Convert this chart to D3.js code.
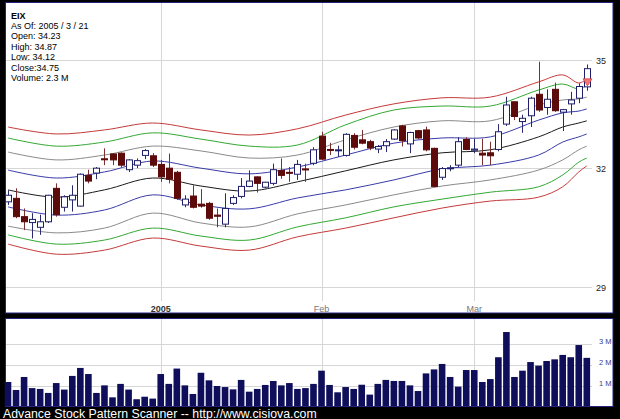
<!DOCTYPE html>
<html><head><meta charset="utf-8">
<script src="https://cdn.jsdelivr.net/npm/d3@7"></script>
<style>html,body{margin:0;padding:0;background:#000;overflow:hidden}svg{display:block}</style>
</head><body>
<svg id="c" width="620" height="419"></svg>
<script>
// ---------- data ----------
const dates = [
 "2004-12-06","2004-12-07","2004-12-08","2004-12-09","2004-12-10","2004-12-13","2004-12-14","2004-12-15","2004-12-16","2004-12-17",
 "2004-12-20","2004-12-21","2004-12-22","2004-12-23","2004-12-27","2004-12-28","2004-12-29","2004-12-30","2004-12-31",
 "2005-01-03","2005-01-04","2005-01-05","2005-01-06","2005-01-07","2005-01-10","2005-01-11","2005-01-12","2005-01-13","2005-01-14",
 "2005-01-18","2005-01-19","2005-01-20","2005-01-21","2005-01-24","2005-01-25","2005-01-26","2005-01-27","2005-01-28","2005-01-31",
 "2005-02-01","2005-02-02","2005-02-03","2005-02-04","2005-02-07","2005-02-08","2005-02-09","2005-02-10","2005-02-11","2005-02-14",
 "2005-02-15","2005-02-16","2005-02-17","2005-02-18","2005-02-22","2005-02-23","2005-02-24","2005-02-25","2005-02-28",
 "2005-03-01","2005-03-02","2005-03-03","2005-03-04","2005-03-07","2005-03-08","2005-03-09","2005-03-10","2005-03-11",
 "2005-03-14","2005-03-15","2005-03-16","2005-03-17","2005-03-18","2005-03-21"];
const openP = [31.12,31.21,30.74,30.59,30.47,30.61,31.47,30.98,31.17,31.01,31.81,31.87,32.25,32.38,32.40,31.96,32.08,32.34,32.33,
 32.10,32.00,31.89,31.04,31.27,31.06,31.08,30.78,30.55,31.08,31.26,31.52,31.77,31.50,31.60,31.94,31.89,31.84,31.98,32.13,
 32.86,32.50,32.47,32.34,32.88,32.76,32.71,32.51,32.60,32.78,33.14,32.65,33.01,33.03,32.53,31.76,32.00,32.08,32.77,
 32.48,32.40,32.41,32.50,33.19,33.81,33.26,33.42,34.02,33.65,34.16,33.52,33.75,33.91,34.23];
const highP = [31.42,31.47,30.95,30.83,30.79,31.30,31.60,31.29,31.55,31.86,31.96,32.03,32.53,32.40,32.42,32.24,32.26,32.51,32.40,
 32.22,32.39,31.93,31.29,31.55,31.45,31.12,30.95,31.34,31.29,31.74,31.94,31.78,31.64,32.12,32.26,32.03,32.22,32.12,32.56,
 32.98,32.68,32.60,32.94,32.94,33.03,32.76,32.62,32.78,33.05,33.17,32.98,33.03,33.12,32.55,32.03,32.08,32.83,32.83,
 32.79,32.79,32.71,33.19,33.95,33.81,33.45,33.95,34.95,34.16,34.35,33.61,34.09,34.33,34.87];
const lowP = [31.04,30.70,30.40,30.19,30.28,30.58,30.74,30.87,30.87,31.00,31.60,31.71,32.08,32.08,32.03,31.90,32.00,32.24,32.03,
 31.64,31.60,31.17,30.98,30.95,30.97,30.66,30.47,30.47,31.04,31.21,31.50,31.36,31.47,31.55,31.72,31.64,31.69,31.64,32.08,
 32.22,32.35,32.30,32.31,32.50,32.64,32.48,32.40,32.43,32.76,32.58,32.40,32.78,32.45,31.50,31.69,31.92,32.03,32.48,
 32.40,32.08,32.08,32.45,33.14,33.30,32.95,33.11,33.53,33.45,33.53,33.00,33.45,33.77,34.12];
const closeP = [31.29,30.74,30.61,30.67,30.61,31.29,30.79,31.25,31.29,31.84,31.66,32.00,32.23,32.22,32.08,32.22,32.20,32.47,32.08,
 31.77,31.71,31.21,31.19,30.98,31.01,30.70,30.75,30.95,31.23,31.52,31.66,31.60,31.63,31.96,31.81,31.87,32.10,31.96,32.49,
 32.24,32.48,32.49,32.91,32.56,32.67,32.54,32.58,32.71,33.03,32.74,32.96,32.81,32.49,31.52,31.99,32.01,32.71,32.50,
 32.51,32.35,32.33,32.98,33.72,33.40,33.35,33.91,33.58,33.88,33.56,33.59,33.86,34.24,34.75];
const volumeM = [1.19,0.81,1.43,0.90,0.86,0.67,1.14,0.83,1.48,1.86,1.57,0.67,1.03,0.46,1.10,0.83,0.37,0.49,0.40,
 1.57,1.10,1.83,1.03,0.62,1.63,1.27,1.00,0.95,0.84,1.29,0.73,0.86,1.05,1.24,1.03,1.14,0.86,0.90,1.10,
 1.73,1.05,0.70,0.95,0.86,1.06,0.59,1.10,1.29,1.24,1.24,1.03,0.76,1.60,1.79,2.05,1.43,0.97,1.76,
 1.76,1.19,1.33,2.37,3.57,1.43,1.73,2.14,1.97,2.19,2.27,2.48,2.37,2.95,2.34];

// band curves, sampled at these bar indices
const bandIdx   = [0, 6, 12, 18, 24, 30, 36, 42, 48, 54, 60, 66, 69, 71, 72];
const midLine   = [31.43,31.24,31.43,31.74,31.53,31.40,31.64,31.93,32.22,32.41,32.49,32.84,33.11,33.22,33.28];
const upBlue    = [31.95,31.74,31.90,32.19,32.00,31.85,32.03,32.35,32.67,32.81,32.84,33.30,33.50,33.55,33.61];
const upGray    = [32.43,32.22,32.35,32.59,32.46,32.27,32.35,32.76,33.11,33.28,33.28,33.72,33.86,33.89,33.94];
const upGreen   = [32.81,32.59,32.70,32.95,32.78,32.59,32.62,33.17,33.58,33.69,33.69,34.14,34.31,34.17,34.28];
const upRed     = [33.11,32.92,33.03,33.22,33.03,32.89,33.06,33.44,33.75,33.92,33.94,34.37,34.57,34.34,34.45];
const loBlue    = [30.99,30.78,30.91,31.30,31.04,30.94,31.22,31.43,31.69,31.98,32.08,32.35,32.70,32.84,32.92];
const loGray    = [30.50,30.33,30.45,30.83,30.58,30.48,30.81,31.04,31.30,31.53,31.69,31.95,32.22,32.49,32.59];
const loGreen   = [30.28,30.05,30.15,30.45,30.25,30.15,30.48,30.71,30.99,31.19,31.37,31.51,31.82,32.16,32.27];
const loRed     = [30.05,29.80,29.90,30.20,30.00,29.90,30.23,30.45,30.71,30.96,31.14,31.24,31.51,31.90,32.06];

const priceTicks = [35, 32, 29];
const volTicks = [1, 2, 3];
const volTickLabels = ["1 M", "2 M", "3 M"];
const monthTicks = ["2005-01-03", "2005-02-01", "2005-03-01"];
const monthLabels = ["2005", "Feb", "Mar"];
const infoLines = ["EIX", "As Of: 2005 / 3 / 21", "Open: 34.23", "High: 34.87", "Low: 34.12", "Close:34.75", "Volume: 2.3 M"];
const footer = "Advance Stock Pattern Scanner -- http://www.cisiova.com";

// ---------- drawing ----------
const svg = d3.select("#c");
const FONT = "'Liberation Sans', Arial, sans-serif";
const navy = "#23237e";

svg.append("rect").attr("width", 620).attr("height", 419).attr("fill", "#000");
// panels
svg.append("rect").attr("x", 5.5).attr("y", 2.5).attr("width", 607.5).attr("height", 310.5)
  .attr("fill", "#fff").attr("stroke", navy);
svg.append("rect").attr("x", 5.5).attr("y", 318.5).attr("width", 607.5).attr("height", 88)
  .attr("fill", "#fff").attr("stroke", navy);

const x = d3.scalePoint().domain(dates).range([8, 586.8]);
const y = d3.scaleLog().domain([29, 35]).range([287, 60]);
const v = d3.scaleLinear().domain([0, 3]).range([407, 344]);

const gridC = "#d6d6d6";
// price gridlines
svg.append("g").selectAll("line").data(priceTicks).join("line")
  .attr("x1", 6).attr("x2", 592)
  .attr("y1", d => Math.round(y(d)) + 0.5).attr("y2", d => Math.round(y(d)) + 0.5)
  .attr("stroke", gridC);
// vertical month gridlines
svg.append("g").selectAll("line").data(monthTicks).join("line")
  .attr("x1", d => Math.round(x(d)) + 0.5).attr("x2", d => Math.round(x(d)) + 0.5)
  .attr("y1", 3).attr("y2", 301).attr("stroke", gridC);
svg.append("g").selectAll("line").data(monthTicks).join("line")
  .attr("x1", d => Math.round(x(d)) + 0.5).attr("x2", d => Math.round(x(d)) + 0.5)
  .attr("y1", 319).attr("y2", 406).attr("stroke", gridC);
// volume gridlines
svg.append("g").selectAll("line").data(volTicks).join("line")
  .attr("x1", 6).attr("x2", 592)
  .attr("y1", d => Math.round(v(d)) + 0.5).attr("y2", d => Math.round(v(d)) + 0.5)
  .attr("stroke", gridC);

// price labels
svg.append("g").selectAll("text").data(priceTicks).join("text")
  .attr("x", 596).attr("y", d => y(d) + 3.5)
  .attr("font-family", FONT).attr("font-size", 9).attr("fill", "#222")
  .text(d => d);
// month labels
svg.append("g").selectAll("text").data(monthTicks).join("text")
  .attr("x", d => x(d)).attr("y", 312).attr("text-anchor", "middle")
  .attr("font-family", FONT).attr("font-size", 9)
  .attr("font-weight", (d, i) => i === 0 ? "bold" : "normal")
  .attr("fill", (d, i) => i === 0 ? "#333" : "#777")
  .text((d, i) => monthLabels[i]);
// volume labels
svg.append("g").selectAll("text").data(volTicks).join("text")
  .attr("x", 599).attr("y", d => v(d) - 0.5)
  .attr("font-family", FONT).attr("font-size", 7.5).attr("fill", "#3a3a8c")
  .text((d, i) => volTickLabels[i]);

// clip for plot
svg.append("clipPath").attr("id", "pc").append("rect").attr("x", 6).attr("y", 3).attr("width", 606).attr("height", 298);
const plot = svg.append("g").attr("clip-path", "url(#pc)");

// bands
const bands = [
  {vals: upRed, c: "#c43a3a"}, {vals: upGreen, c: "#33a833"}, {vals: upGray, c: "#8a8a8a"}, {vals: upBlue, c: "#3a3aa8"},
  {vals: midLine, c: "#1a1a1a"},
  {vals: loBlue, c: "#3a3aa8"}, {vals: loGray, c: "#8a8a8a"}, {vals: loGreen, c: "#33a833"}, {vals: loRed, c: "#c43a3a"}
];
const lineGen = d3.line().x(d => x(dates[d[0]])).y(d => y(d[1])).curve(d3.curveCatmullRom.alpha(0.5));
bands.forEach(b => {
  plot.append("path").attr("d", lineGen(bandIdx.map((k, j) => [k, b.vals[j]])))
    .attr("fill", "none").attr("stroke", b.c).attr("stroke-width", 1);
});

// candles
const cw = 6;
const cg = plot.append("g");
dates.forEach((d, i) => {
  const up = closeP[i] >= openP[i];
  const cx = Math.round(x(d)) + 0.5;
  const col = up ? "#1e1e6a" : "#5c0a0a";
  cg.append("line").attr("x1", cx).attr("x2", cx).attr("y1", y(highP[i])).attr("y2", y(lowP[i]))
    .attr("stroke", up ? "#2a2a6e" : "#7a3030").attr("stroke-width", 1);
  const top = y(Math.max(openP[i], closeP[i]));
  const bot = y(Math.min(openP[i], closeP[i]));
  cg.append("rect").attr("x", cx - cw / 2).attr("y", top).attr("width", cw).attr("height", Math.max(1, bot - top))
    .attr("fill", up ? "#fff" : "#5c0a0a").attr("stroke", col).attr("stroke-width", 1);
});
// marker on last candle
const li = dates.length - 1;
const lx = Math.round(x(dates[li])) + 0.5;
const ly = y(openP[li]);
cg.append("path").attr("d", `M${lx - 4.5},${ly - 8} L${lx + 4.5},${ly - 8} L${lx},${ly - 1} Z`)
  .attr("fill", "#f07878").attr("stroke", "#e04040").attr("stroke-width", 0.8);

// volume bars
svg.append("g").selectAll("rect").data(volumeM).join("rect")
  .attr("x", (d, i) => x(dates[i]) - 3.3).attr("width", 6.6)
  .attr("y", d => v(d)).attr("height", d => Math.max(0, 406 - v(d)))
  .attr("fill", "#0e0e5a");

// info text
svg.append("g").selectAll("text").data(infoLines).join("text")
  .attr("x", 11).attr("y", (d, i) => 18.5 + i * 10.4)
  .attr("font-family", FONT).attr("font-size", 9).attr("fill", "#000")
  .attr("font-weight", (d, i) => i === 0 ? "bold" : "normal")
  .text(d => d);

// footer
svg.append("text").attr("x", 3).attr("y", 417.5)
  .attr("font-family", FONT).attr("font-size", 12.3).attr("fill", "#fff").text(footer);
</script>
</body></html>
